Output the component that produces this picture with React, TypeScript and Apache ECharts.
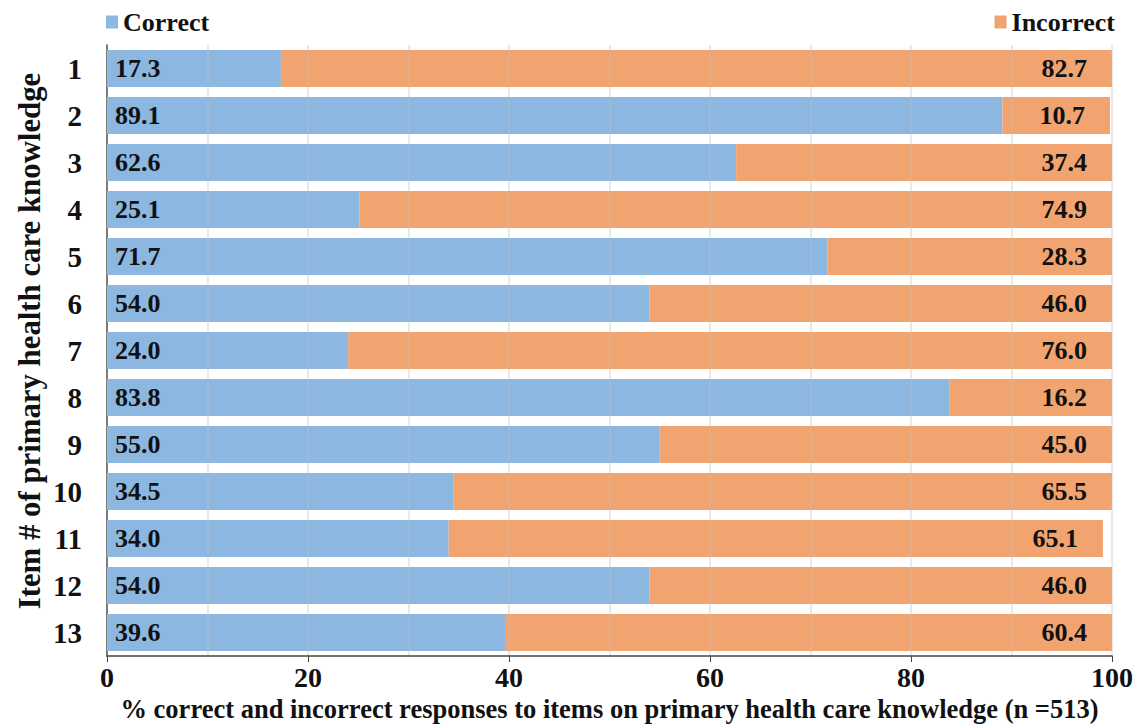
import React, { useEffect, useRef } from "react";
import * as echarts from "echarts";

const items = ["1", "2", "3", "4", "5", "6", "7", "8", "9", "10", "11", "12", "13"];
const correct = [17.3, 89.1, 62.6, 25.1, 71.7, 54.0, 24.0, 83.8, 55.0, 34.5, 34.0, 54.0, 39.6];
const incorrect = [82.7, 10.7, 37.4, 74.9, 28.3, 46.0, 76.0, 16.2, 45.0, 65.5, 65.1, 46.0, 60.4];
const xTicks = [0, 20, 40, 60, 80, 100];
const yTitle = "Item # of primary health care knowledge";
const xTitle = "% correct and incorrect responses to items on primary health care knowledge (n =513)";

const FONT = "'Liberation Serif', 'DejaVu Serif', serif";
const BLUE = "#8cb7e1";
const ORANGE = "#f1a470";

export default function App() {
  const ref = useRef<HTMLDivElement>(null);
  useEffect(() => {
    if (!ref.current) return;
    const chart = echarts.init(ref.current, null, { renderer: "svg" });
    chart.setOption({
      animation: false,
      backgroundColor: "#ffffff",
      legend: [
        {
          data: ["Correct"],
          left: 101,
          top: 4,
          itemWidth: 12,
          itemHeight: 13,
          icon: "rect",
          textStyle: { fontFamily: FONT, fontWeight: "bold", fontSize: 26, color: "#111" },
        },
        {
          data: ["Incorrect"],
          right: 28,
          top: 4,
          itemWidth: 12,
          itemHeight: 13,
          icon: "rect",
          textStyle: { fontFamily: FONT, fontWeight: "bold", fontSize: 26, color: "#111" },
        },
      ],
      graphic: [
        {
          type: "text",
          x: 30,
          y: 341,
          rotation: Math.PI / 2,
          style: {
            text: yTitle,
            fontFamily: FONT,
            fontWeight: "bold",
            fontSize: 30.8,
            fill: "#111",
            align: "center",
            verticalAlign: "middle",
          },
        },
      ],
      grid: { left: 107, right: 36, top: 45, bottom: 69, containLabel: false, outerBoundsMode: "none" },
      xAxis: {
        type: "value",
        min: 0,
        max: 100,
        interval: 20,
        z: 3,
        name: xTitle,
        nameLocation: "middle",
        nameGap: 35,
        nameTextStyle: { fontFamily: FONT, fontWeight: "bold", fontSize: 26.5, color: "#111" },
        axisLine: { show: true, lineStyle: { color: "#444", width: 1.5 } },
        axisTick: { show: true, length: 6, lineStyle: { color: "#444" } },
        axisLabel: {
          fontFamily: FONT,
          fontWeight: "bold",
          fontSize: 28,
          color: "#111",
          margin: 7,
          formatter: (v: number) => (xTicks.includes(v) ? String(v) : ""),
        },
        splitLine: { show: true, lineStyle: { color: "rgba(190,190,190,0.45)", width: 1.5 } },
        minorTick: { show: false, splitNumber: 2 },
        minorSplitLine: { show: true, lineStyle: { color: "rgba(190,190,190,0.45)", width: 1.5 } },
      },
      yAxis: {
        type: "category",
        data: items,
        inverse: true,
        axisLine: { show: true, lineStyle: { color: "#222", width: 1.5 } },
        axisTick: { show: false },
        axisLabel: { fontFamily: FONT, fontWeight: "bold", fontSize: 29, color: "#111", margin: 25 },
      },
      series: [
        {
          name: "Correct",
          type: "bar",
          stack: "total",
          data: correct,
          barCategoryGap: "21%",
          itemStyle: { color: BLUE },
          label: {
            show: true,
            position: "insideLeft",
            distance: 8,
            fontFamily: FONT,
            fontWeight: "bold",
            fontSize: 26,
            color: "#111",
            formatter: (p: any) => Number(p.value).toFixed(1),
          },
        },
        {
          name: "Incorrect",
          type: "bar",
          stack: "total",
          data: incorrect,
          itemStyle: { color: ORANGE },
          label: {
            show: true,
            position: "insideRight",
            distance: 25,
            fontFamily: FONT,
            fontWeight: "bold",
            fontSize: 26,
            color: "#111",
            formatter: (p: any) => Number(p.value).toFixed(1),
          },
        },
      ],
    });
    return () => chart.dispose();
  }, []);
  return (
    <div
      ref={ref}
      style={{ position: "fixed", left: 0, top: 0, width: 1148, height: 725 }}
    />
  );
}
